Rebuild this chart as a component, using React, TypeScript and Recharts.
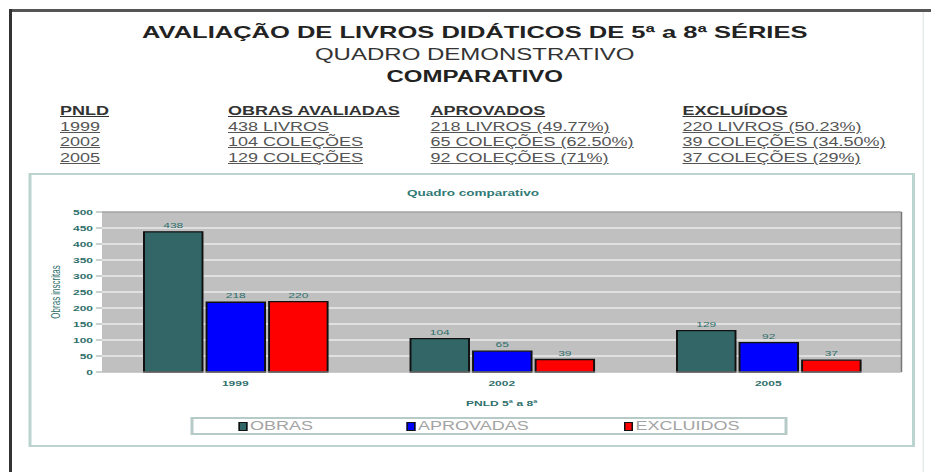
import React from 'react';
import { BarChart, Bar, XAxis, YAxis, CartesianGrid, Legend, LabelList, ReferenceLine } from 'recharts';

// the scanned original is stretched sideways, so everything is laid out narrow and scaled in x
const SCALE_X = 1.5;
const PAGE_W = 931;
const PAGE_H = 472;
const INNER_W = PAGE_W / SCALE_X;

const categories = ['1999', '2002', '2005'];
const obras = [438, 104, 129];
const aprovadas = [218, 65, 92];
const excluidos = [220, 39, 37];

const seriesNames = ['OBRAS', 'APROVADAS', 'EXCLUIDOS'];
const seriesColors = ['#336666', '#0000ff', '#ff0000'];
const yTicks = [0, 50, 100, 150, 200, 250, 300, 350, 400, 450, 500];

const tableHeader = ['PNLD', 'OBRAS AVALIADAS', 'APROVADOS', 'EXCLUÍDOS'];
const tableRows = [
  ['1999', '438 LIVROS', '218 LIVROS (49.77%)', '220 LIVROS (50.23%)'],
  ['2002', '104 COLEÇÕES', '65 COLEÇÕES (62.50%)', '39 COLEÇÕES (34.50%)'],
  ['2005', '129 COLEÇÕES', '92 COLEÇÕES (71%)', '37 COLEÇÕES (29%)'],
];

const chartData = categories.map((pnld, i) => ({
  pnld,
  OBRAS: obras[i],
  APROVADAS: aprovadas[i],
  EXCLUIDOS: excluidos[i],
}));

const teal = '#2f6f6c';
const colX = [40, 152, 287, 455];
const rowY = [111, 127, 142, 158];
const legendX = [30, 142, 287];

const renderLegend = () => (
  <div
    style={{
      position: 'relative',
      width: 398,
      height: 18,
      boxSizing: 'border-box',
      border: '2px solid #b6cbc7',
      background: '#fff',
    }}
  >
    {seriesNames.map((name, i) => (
      <div
        key={name}
        style={{ position: 'absolute', left: legendX[i], top: 1, display: 'flex', alignItems: 'center', height: 13 }}
      >
        <span
          style={{
            display: 'inline-block',
            width: 6,
            height: 9,
            background: seriesColors[i],
            border: '1px solid #111',
            boxSizing: 'border-box',
          }}
        />
        <span style={{ marginLeft: 2, fontSize: 12, lineHeight: '13px', color: '#a3a3a3' }}>{name}</span>
      </div>
    ))}
  </div>
);

const App: React.FC = () => {
  return (
    <div style={{ position: 'absolute', left: 0, top: 0, width: PAGE_W, height: PAGE_H, overflow: 'hidden', background: '#fff' }}>
      <div
        style={{
          position: 'absolute',
          left: 0,
          top: 0,
          width: INNER_W,
          height: PAGE_H,
          transform: `scaleX(${SCALE_X})`,
          transformOrigin: '0 0',
          fontFamily: '"Liberation Sans", Arial, sans-serif',
        }}
      >
        {/* page frame */}
        <div style={{ position: 'absolute', left: 6, top: 9, width: INNER_W - 6, height: 3, background: '#555' }} />
        <div style={{ position: 'absolute', left: 6, top: 9, width: 2, height: PAGE_H - 9, background: '#333' }} />
        <div style={{ position: 'absolute', left: 614.5, top: 12, width: 1, height: PAGE_H - 12, background: '#e6eceb' }} />

        {/* heading */}
        <div style={{ position: 'absolute', left: 0, width: 633, top: 23, textAlign: 'center', fontSize: 17, lineHeight: '20px', fontWeight: 'bold', color: '#222' }}>
          AVALIAÇÃO DE LIVROS DIDÁTICOS DE 5ª a 8ª SÉRIES
        </div>
        <div style={{ position: 'absolute', left: 0, width: 633, top: 46, textAlign: 'center', fontSize: 16, lineHeight: '18px', color: '#333' }}>
          QUADRO DEMONSTRATIVO
        </div>
        <div style={{ position: 'absolute', left: 0, width: 633, top: 68, textAlign: 'center', fontSize: 16, lineHeight: '18px', fontWeight: 'bold', color: '#222' }}>
          COMPARATIVO
        </div>

        {/* table */}
        {[tableHeader, ...tableRows].map((row, r) =>
          row.map((cell, c) => (
            <div
              key={`${r}-${c}`}
              style={{
                position: 'absolute',
                left: colX[c],
                top: rowY[r] - 7,
                fontSize: 12,
                lineHeight: '14px',
                whiteSpace: 'nowrap',
                fontWeight: r === 0 ? 'bold' : 'normal',
                color: r === 0 ? '#333' : '#555',
                textDecoration: 'underline',
              }}
            >
              {cell}
            </div>
          ))
        )}

        {/* chart frame */}
        <div style={{ position: 'absolute', left: 18.7, top: 173, width: 591.3, height: 274, boxSizing: 'border-box', border: '2px solid #bcd4d0' }} />
        <div style={{ position: 'absolute', left: 0, width: 630.6, top: 188, textAlign: 'center', fontSize: 9, lineHeight: '10px', fontWeight: 'bold', color: '#2f7a75' }}>
          Quadro comparativo
        </div>

        <div style={{ position: 'absolute', left: 18.7, top: 173, width: 591, height: 274 }}>
          <BarChart
            width={591}
            height={274}
            data={chartData}
            margin={{ top: 39, right: 9, left: 4, bottom: 35 }}
            barCategoryGap={28}
            barGap={2.7}
          >
            <CartesianGrid vertical={false} fill="#c0c0c0" fillOpacity={1} stroke="#ffffff" strokeWidth={1} />
            <CartesianGrid
              horizontal={false}
              stroke="#777"
              verticalCoordinatesGenerator={({ offset }: any) => [offset.left + offset.width]}
            />
            <XAxis
              dataKey="pnld"
              height={40}
              axisLine={{ stroke: '#999' }}
              tickLine={false}
              tick={{ fontSize: 8, fontWeight: 'bold', fill: teal }}
              label={{ value: 'PNLD 5ª a 8ª', position: 'insideBottom', offset: 6, fontSize: 8, fontWeight: 'bold', fill: teal }}
            />
            <YAxis
              width={45}
              domain={[0, 500]}
              ticks={yTicks}
              interval={0}
              axisLine={false}
              tickSize={4}
              tickLine={{ stroke: '#8fa5a3' }}
              tick={{ fontSize: 8, fontWeight: 'bold', fill: teal }}
              label={{
                value: 'Obras inscritas',
                angle: -90,
                position: 'insideLeft',
                offset: 14,
                fontSize: 8,
                fill: teal,
                style: { textAnchor: 'middle' },
              }}
            />
            <ReferenceLine y={500} stroke="#777" />
            <Legend layout="horizontal" verticalAlign="middle" align="center" content={renderLegend} wrapperStyle={{ left: 108, top: 244, width: 398, height: 18 }} />
            {seriesNames.map((name, i) => (
              <Bar key={name} dataKey={name} fill={seriesColors[i]} stroke="#111" strokeWidth={1.3} isAnimationActive={false}>
                <LabelList dataKey={name} position="top" offset={4} fontSize={8} fill={teal} />
              </Bar>
            ))}
          </BarChart>
        </div>
      </div>
    </div>
  );
};

export default App;
